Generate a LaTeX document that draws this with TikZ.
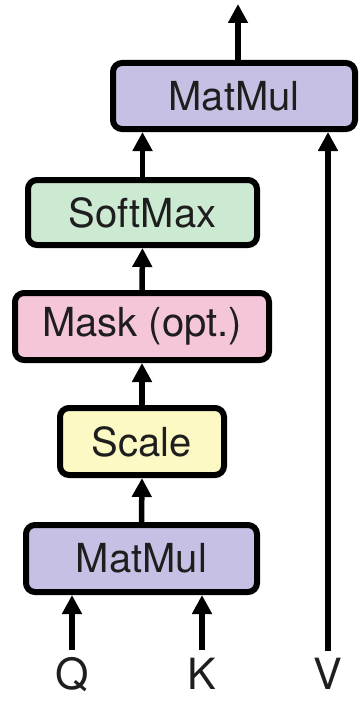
\documentclass[tikz,border=0pt]{standalone}
\usepackage{fontspec}
\setmainfont{TeX Gyre Heros}
\usetikzlibrary{arrows.meta}
\definecolor{matmulc}{RGB}{198,193,228}
\definecolor{softc}{RGB}{204,233,210}
\definecolor{maskc}{RGB}{245,198,218}
\definecolor{scalec}{RGB}{252,249,196}
\definecolor{txt}{RGB}{30,30,30}
\begin{document}
\begin{tikzpicture}[x=1pt,y=-1pt,
  opbox/.style={draw=black,line width=6pt,rounded corners=9pt,inner sep=0pt,
    font=\fontsize{40}{44}\selectfont,text=txt},
  lbl/.style={inner sep=0pt,anchor=base,font=\fontsize{43}{46}\selectfont,text=txt},
  arr/.style={line width=5.5pt,-{Triangle[width=19pt,length=19pt]}}]
\useasboundingbox (0,0) rectangle (360,701);
\node[opbox,fill=matmulc,minimum width=242pt,minimum height=66pt] (top) at (234,96) {MatMul};
\node[opbox,fill=softc,minimum width=229pt,minimum height=65pt] (soft) at (142.5,212.5) {SoftMax};
\node[opbox,fill=maskc,minimum width=254pt,minimum height=67pt] (mask) at (142,326.5) {Mask (opt.)};
\node[opbox,fill=scalec,minimum width=164pt,minimum height=67pt] (scale) at (142,441.5) {Scale};
\node[opbox,fill=matmulc,minimum width=231pt,minimum height=67pt] (bot) at (141.5,558.5) {MatMul};
\node[lbl] (q) at (72,689) {Q};
\node[lbl] (k) at (202,689) {K};
\node[lbl] (v) at (328,689) {V};
\coordinate (qs) at (72,650);
\coordinate (ks) at (202,650);
\coordinate (vs) at (328,651);
\coordinate (out) at (238,4);
\draw[arr] (qs) -- (qs |- bot.south);
\draw[arr] (ks) -- (ks |- bot.south);
\draw[arr] (bot.north) -- (scale.south);
\draw[arr] (scale.north) -- (mask.south);
\draw[arr] (mask.north) -- (soft.south);
\draw[arr] (soft.north) -- (soft.north |- top.south);
\draw[arr] (vs) -- (vs |- top.south);
\draw[arr] (out |- top.north) -- (out);
\end{tikzpicture}
\end{document}
